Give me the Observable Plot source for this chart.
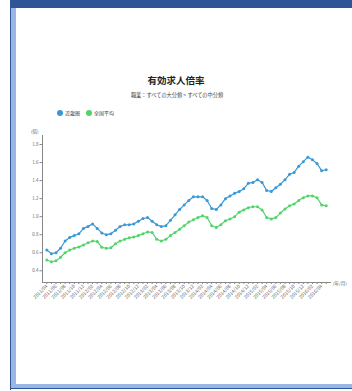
<!DOCTYPE html>
<html><head><meta charset="utf-8">
<script src="https://cdn.jsdelivr.net/npm/d3@7"></script>
<script src="https://cdn.jsdelivr.net/npm/@observablehq/plot@0.6"></script>
<style>
html,body{margin:0;padding:0;background:#fff;width:352px;height:391px;overflow:hidden;font-family:"Noto Sans CJK JP","Noto Sans",sans-serif;}
#frame{position:absolute;left:0;top:0;width:352px;height:391px;}
.abs{position:absolute;white-space:nowrap;}
#topbar{left:10px;top:0;width:342px;height:8px;background:#2f5597;}
#leftdark{left:10px;top:0;width:1px;height:390px;background:#2f5597;}
#leftlight{left:11px;top:8px;width:5px;height:377px;background:#9ab5e6;}
#botlight{left:11px;top:384px;width:341px;height:4px;background:#9ab5e6;}
#botdark{left:10px;top:388px;width:342px;height:1px;background:#2f5597;}
#title{left:0;width:352px;top:73px;text-align:center;font-size:9.5px;font-weight:bold;color:#222;}
#sub{left:0;width:354px;top:91px;text-align:center;font-size:5.2px;color:#444;}
#legend{left:57px;top:109px;font-size:5px;color:#444;display:flex;align-items:center;}
.sw{display:inline-block;width:6px;height:6px;border-radius:50%;margin-right:2px;}
#chart{position:absolute;left:0;top:120px;}
#yunit{left:31px;top:128px;font-size:4.5px;color:#555;}
#xunit{left:333px;top:280px;font-size:4.5px;color:#555;}
</style></head>
<body>
<div id="frame">
<div class="abs" id="topbar"></div>
<div class="abs" id="leftdark"></div>
<div class="abs" id="leftlight"></div>
<div class="abs" id="botlight"></div>
<div class="abs" id="botdark"></div>
<div class="abs" id="title">有効求人倍率</div>
<div class="abs" id="sub">職業：すべての大分類 &gt; すべての中分類</div>
<div class="abs" id="legend"></div>
<div class="abs" id="yunit">(倍)</div>
<div class="abs" id="xunit">(年/月)</div>
<div id="chart"></div>
</div>
<script>
const seriesNames = ["近畿圏", "全国平均"];
const seriesColors = ["#3a98d6", "#52d46b"];
const months = [
"2011/04","2011/05","2011/06","2011/07","2011/08","2011/09","2011/10","2011/11","2011/12",
"2012/01","2012/02","2012/03","2012/04","2012/05","2012/06","2012/07","2012/08","2012/09","2012/10","2012/11","2012/12",
"2013/01","2013/02","2013/03","2013/04","2013/05","2013/06","2013/07","2013/08","2013/09","2013/10","2013/11","2013/12",
"2014/01","2014/02","2014/03","2014/04","2014/05","2014/06","2014/07","2014/08","2014/09","2014/10","2014/11","2014/12",
"2015/01","2015/02","2015/03","2015/04","2015/05","2015/06","2015/07","2015/08","2015/09","2015/10","2015/11","2015/12",
"2016/01","2016/02","2016/03","2016/04","2016/05"];
const regional = [0.63,0.59,0.60,0.65,0.73,0.77,0.79,0.81,0.87,0.89,0.92,0.87,0.82,0.80,0.81,0.85,0.89,0.91,0.91,0.92,
0.95,0.98,0.99,0.95,0.91,0.89,0.90,0.96,1.02,1.08,1.13,1.18,1.22,1.22,1.22,1.18,1.09,1.08,1.13,1.20,
1.23,1.26,1.28,1.31,1.37,1.38,1.41,1.38,1.29,1.28,1.32,1.36,1.41,1.47,1.49,1.56,1.61,1.66,1.63,1.59,1.51,1.52];
const national = [0.52,0.50,0.51,0.55,0.60,0.63,0.65,0.665,0.685,0.71,0.73,0.725,0.66,0.65,0.655,0.70,0.73,0.75,0.765,0.775,
0.79,0.81,0.83,0.825,0.75,0.73,0.75,0.79,0.825,0.86,0.90,0.94,0.965,0.99,1.01,0.99,0.90,0.88,0.91,0.955,
0.975,1.00,1.05,1.075,1.10,1.11,1.11,1.075,0.99,0.975,0.99,1.04,1.085,1.12,1.14,1.18,1.21,1.23,1.23,1.21,1.13,1.12];
const yTicks = [0.4,0.6,0.8,1.0,1.2,1.4,1.6,1.8];

const data = [];
months.forEach((m,i)=>{
  data.push({month:m, value:regional[i], series:seriesNames[0]});
  data.push({month:m, value:national[i], series:seriesNames[1]});
});

const leg = document.getElementById("legend");
seriesNames.forEach((n,i)=>{
  const s = document.createElement("span");
  s.style.display="inline-flex";s.style.alignItems="center";s.style.marginRight="6px";
  s.innerHTML = `<span class="sw" style="background:${seriesColors[i]}"></span>${n}`;
  leg.appendChild(s);
});

const chart = Plot.plot({
  width: 352,
  height: 190,
  marginLeft: 42,
  marginRight: 22,
  marginTop: 15,
  marginBottom: 28,
  style: {fontFamily: "'Noto Sans CJK JP', sans-serif", color: "#666", background: "transparent"},
  x: {type: "point", domain: months, inset: 2, label: null},
  y: {domain: [0.27, 1.9], label: null},
  color: {domain: seriesNames, range: seriesColors},
  marks: [
    Plot.axisY({ticks: yTicks, tickFormat: d3.format(".1f"), tickSize: 2.5, tickPadding: 1.5, fontSize: 4.5, stroke: "#888", label: null}),
    Plot.axisX({ticks: months, tickFormat: (d,i) => (i % 2 ? "" : d), tickRotate: -45, tickSize: 2, tickPadding: 1, fontSize: 4.8, stroke: "#888", label: null}),
    Plot.frame({anchor: "left", stroke: "#888"}),
    Plot.frame({anchor: "bottom", stroke: "#888"}),
    Plot.line(data, {x: "month", y: "value", z: "series", stroke: "series", strokeWidth: 1.2}),
    Plot.dot(data, {x: "month", y: "value", fill: "series", r: 1.5})
  ]
});
document.getElementById("chart").appendChild(chart);
</script>
</body></html>
